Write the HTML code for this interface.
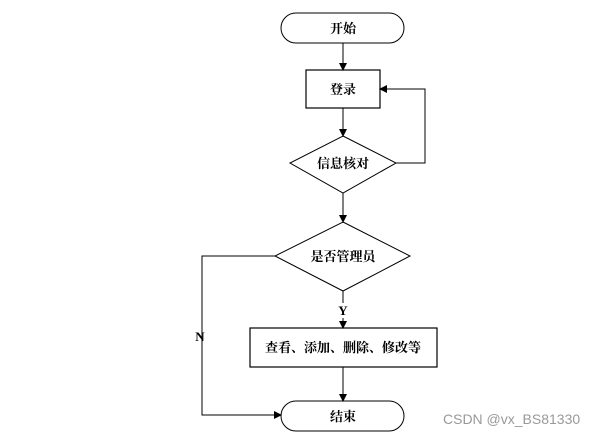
<!DOCTYPE html>
<html><head><meta charset="utf-8"><style>
html,body{margin:0;padding:0;background:#fff;width:609px;height:437px;overflow:hidden}
svg text{font-family:"Liberation Serif","Noto Serif CJK SC",serif;font-weight:bold;font-size:13px}
</style></head><body>
<svg width="609" height="437" viewBox="0 0 609 437" xmlns="http://www.w3.org/2000/svg">
<defs><marker id="a" markerWidth="8" markerHeight="8" refX="7" refY="4" orient="auto" markerUnits="userSpaceOnUse"><path d="M0,0 L8,4 L0,8 z" fill="#000"/></marker></defs>
<g stroke="#000" stroke-width="1" fill="none">
<rect x="281" y="13" width="123" height="30" rx="15" ry="15"/>
<rect x="306" y="70" width="74" height="38" stroke-width="1.2"/>
<polygon points="343,136 396,163 343,193 290,163"/>
<polygon points="343,222 410,256 343,291 275,256"/>
<rect x="250" y="328" width="187" height="39" stroke-width="1.2"/>
<rect x="281" y="401" width="123" height="30" rx="15" ry="15"/>
<line x1="343" y1="43" x2="343" y2="70" marker-end="url(#a)"/>
<line x1="343" y1="108" x2="343" y2="136" marker-end="url(#a)"/>
<polyline points="396,163 425,163 425,89 380,89" marker-end="url(#a)"/>
<line x1="343" y1="193" x2="343" y2="222" marker-end="url(#a)"/>
<line x1="343" y1="291" x2="343" y2="303"/>
<line x1="343" y1="318" x2="343" y2="328" marker-end="url(#a)"/>
<line x1="343" y1="367" x2="343" y2="401" marker-end="url(#a)"/>
<polyline points="275,256 202,256 202,415 281,415" marker-end="url(#a)"/>
</g>
<g text-anchor="middle" fill="#000">
<text x="343" y="33">开始</text>
<text x="343" y="94">登录</text>
<text x="343" y="168">信息核对</text>
<text x="343" y="261">是否管理员</text>
<text x="343" y="315">Y</text>
<text x="343" y="352">查看、添加、删除、修改等</text>
<text x="343" y="421">结束</text>
<text x="200" y="341">N</text>
</g>
<text x="443" y="424" style="font-family:'Liberation Sans',sans-serif;font-weight:normal;font-size:14px" fill="#999">CSDN @vx_BS81330</text>
</svg>
</body></html>
